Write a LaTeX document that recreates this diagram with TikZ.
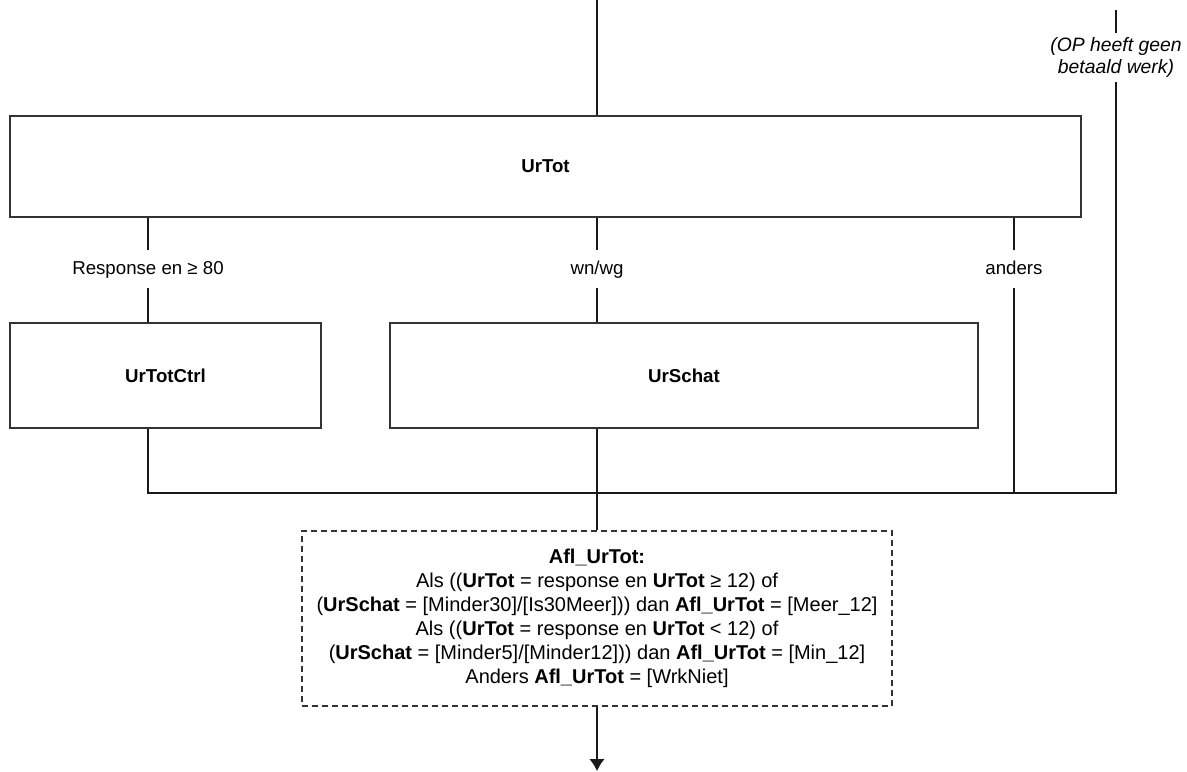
\documentclass[tikz,border=0pt]{standalone}
\usepackage{fontspec}
\setmainfont{Liberation Sans}
\usetikzlibrary{arrows.meta}

\begin{document}
\begin{tikzpicture}[x=0.75pt,y=0.75pt,yscale=-1,xscale=1,
  every node/.style={font=\fontsize{14}{16.8}\selectfont},
  qbox/.style={draw=black!80,line width=1pt,inner sep=0pt},
  lbl/.style={inner sep=0pt,text height=10.5pt,text depth=3pt,minimum height=28.5pt},
  conn/.style={draw=black!90,line width=0.9pt}]
\useasboundingbox (0,0) rectangle (1187,771);

%Shape: Rectangle [id:urtot]
\node [qbox,minimum width=803.25pt,minimum height=75.75pt] (UrTot) at (545.5,166.5) {\textbf{UrTot}};
%Shape: Rectangle [id:urtotctrl]
\node [qbox,minimum width=233.25pt,minimum height=78.75pt] (UrTotCtrl) at (165.5,375.5) {\textbf{UrTotCtrl}};
%Shape: Rectangle [id:urschat]
\node [qbox,minimum width=441pt,minimum height=78.75pt] (UrSchat) at (684,375.5) {\textbf{UrSchat}};
%Shape: Rectangle dashed [id:aflurtot]
\node [qbox,dash pattern=on 4.5pt off 3pt,minimum width=442.5pt,minimum height=131.25pt,align=center,font=\fontsize{15}{18}\selectfont] (AflUrTot) at (597,618.5) {\textbf{Afl\_UrTot:}\\
Als ((\textbf{UrTot} = response en \textbf{UrTot} ≥ 12) of\\
(\textbf{UrSchat} = [Minder30]/[Is30Meer])) dan \textbf{Afl\_UrTot} = [Meer\_12]\\
Als ((\textbf{UrTot} = response en \textbf{UrTot} < 12) of\\
(\textbf{UrSchat} = [Minder5]/[Minder12])) dan \textbf{Afl\_UrTot} = [Min\_12]\\
Anders \textbf{Afl\_UrTot} = [WrkNiet]};

% Text Node
\node [lbl] (lblResp) at (148,269) {Response en ≥ 80};
% Text Node
\node [lbl] (lblWn) at (597,269) {wn/wg};
% Text Node
\node [lbl] (lblAnders) at (1014,269) {anders};
% Text Node
\node [inner sep=0pt,minimum height=36.75pt,align=center,font=\fontsize{14.5}{16.5}\selectfont\itshape] (lblGeen) at (1116,57.5) {(OP heeft geen\\betaald werk)};

\coordinate (in) at (597,0);
\coordinate (geenTop) at (1116,10);
\coordinate (join) at (597,493);
\coordinate (out) at (597,771);

%Straight Lines
\draw [conn] (in) -- (in |- UrTot.north);
\draw [conn] (geenTop) -- (geenTop |- lblGeen.north);
\draw [conn] (geenTop |- lblGeen.south) |- (join);
%Straight Lines
\draw [conn] (lblResp |- UrTot.south) -- (lblResp);
\draw [conn] (lblResp) -- (UrTotCtrl.north -| lblResp);
\draw [conn] (lblWn |- UrTot.south) -- (lblWn);
\draw [conn] (lblWn) -- (UrSchat.north -| lblWn);
\draw [conn] (lblAnders |- UrTot.south) -- (lblAnders);
\draw [conn] (lblAnders) -- (lblAnders |- join);
%Straight Lines
\draw [conn] (UrTotCtrl.south -| lblResp) |- (join);
\draw [conn] (UrSchat.south -| lblWn) -- (AflUrTot.north);
\draw [conn,-{Latex[length=9pt,width=11.5pt]}] (AflUrTot.south) -- (out);

\end{tikzpicture}
\end{document}
